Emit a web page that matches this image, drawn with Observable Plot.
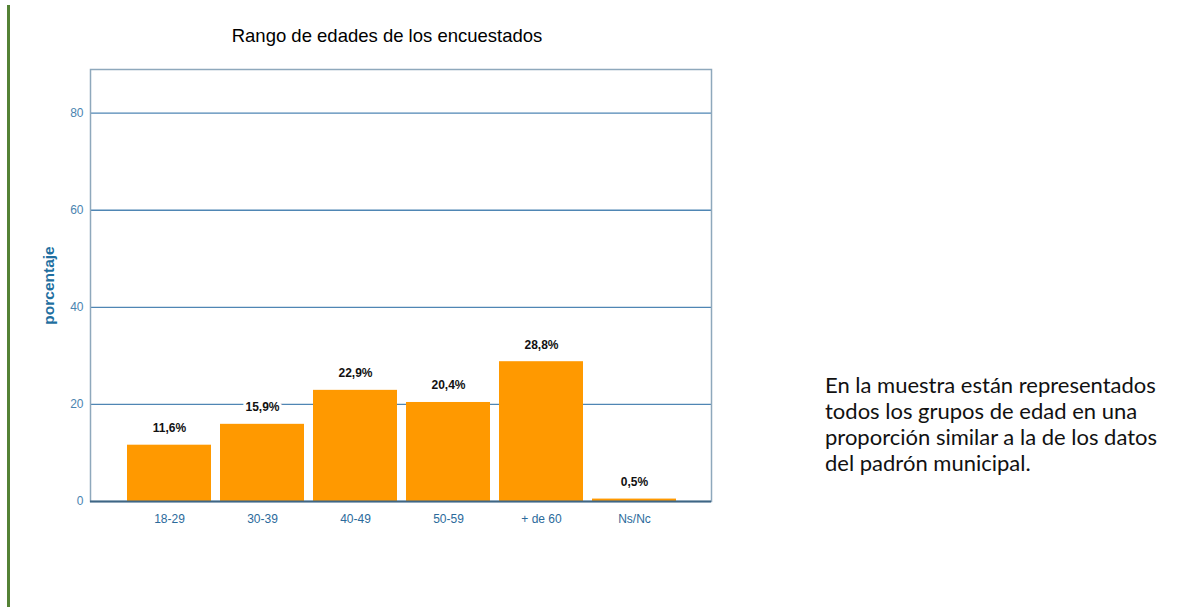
<!DOCTYPE html>
<html>
<head>
<meta charset="utf-8">
<script src="https://cdn.jsdelivr.net/npm/d3@7"></script>
<script src="https://cdn.jsdelivr.net/npm/@observablehq/plot@0.6"></script>
<style>
  html, body { margin: 0; padding: 0; background: #fff; }
  #wrap { position: relative; width: 1201px; height: 607px; overflow: hidden; }
  #greenbar { position: absolute; left: 7px; top: 5px; width: 3px; height: 602px; background: #548235; }
  #title { position: absolute; left: 187px; width: 400px; top: 25px; text-align: center;
           font-family: "Liberation Sans", Arial, sans-serif; font-size: 18.5px; color: #000; }
  #note { position: absolute; left: 825px; top: 372px; font-family: Lato, "Noto Sans", sans-serif;
          font-size: 22px; line-height: 26px; color: #111; }
  #chart { position: absolute; left: 0; top: 0; }
</style>
</head>
<body>
<div id="wrap">
  <div id="chart"></div>
  <div id="greenbar"></div>
  <div id="title">Rango de edades de los encuestados</div>
  <div id="note">En la muestra están representados<br>todos los grupos de edad en una<br>proporción similar a la de los datos<br>del padrón municipal.</div>
</div>
<script>
const categories = ["18-29", "30-39", "40-49", "50-59", "+ de 60", "Ns/Nc"];
const values = [11.6, 15.9, 22.9, 20.4, 28.8, 0.5];
const labels = ["11,6%", "15,9%", "22,9%", "20,4%", "28,8%", "0,5%"];
const yTicks = [0, 20, 40, 60, 80];
const gridValues = [20, 40, 60, 80];

const data = categories.map((c, i) => ({cat: c, val: values[i], lab: labels[i]}));

const chart = Plot.plot({
  width: 1201,
  height: 607,
  marginLeft: 90,
  marginRight: 490,
  marginTop: 69,
  marginBottom: 106,
  style: {background: "transparent", fontFamily: "Liberation Sans, Arial, sans-serif"},
  x: {domain: categories, paddingInner: 0.1, paddingOuter: 0.05, insetLeft: 31, insetRight: 30, label: null},
  y: {domain: [0, 89], label: null},
  marks: [
    Plot.ruleY(gridValues, {stroke: "#4f86b4", strokeWidth: 1.3}),
    Plot.frame({stroke: "#8ea8bc", strokeWidth: 1.5}),
    Plot.barY(data, {x: "cat", y: "val", fill: "#ff9900"}),
    Plot.ruleY([0], {stroke: "#3e6685", strokeWidth: 2}),
    Plot.text(data, {x: "cat", y: "val", text: "lab", dy: -17, fontWeight: "bold", fontSize: 12,
                     fill: "#111", stroke: "white", strokeWidth: 6}),
    Plot.axisY({ticks: yTicks, tickSize: 0, tickPadding: 7, fontSize: 12, color: "#4a84b0",
                label: "porcentaje", labelAnchor: "center", labelArrow: false, labelOffset: 48}),
    Plot.axisX({tickSize: 0, tickPadding: 13, fontSize: 12, color: "#2b6a9b",
                fontFamily: "Liberation Sans Narrow, Arial Narrow, sans-serif", label: null})
  ]
});
document.getElementById("chart").appendChild(chart);
chart.querySelectorAll("text").forEach(t => {
  if (t.textContent === "porcentaje") {
    t.setAttribute("font-weight", "bold");
    t.setAttribute("font-size", "15.5");
    t.setAttribute("fill", "#1f6fa0");
  }
});
</script>
</body>
</html>
